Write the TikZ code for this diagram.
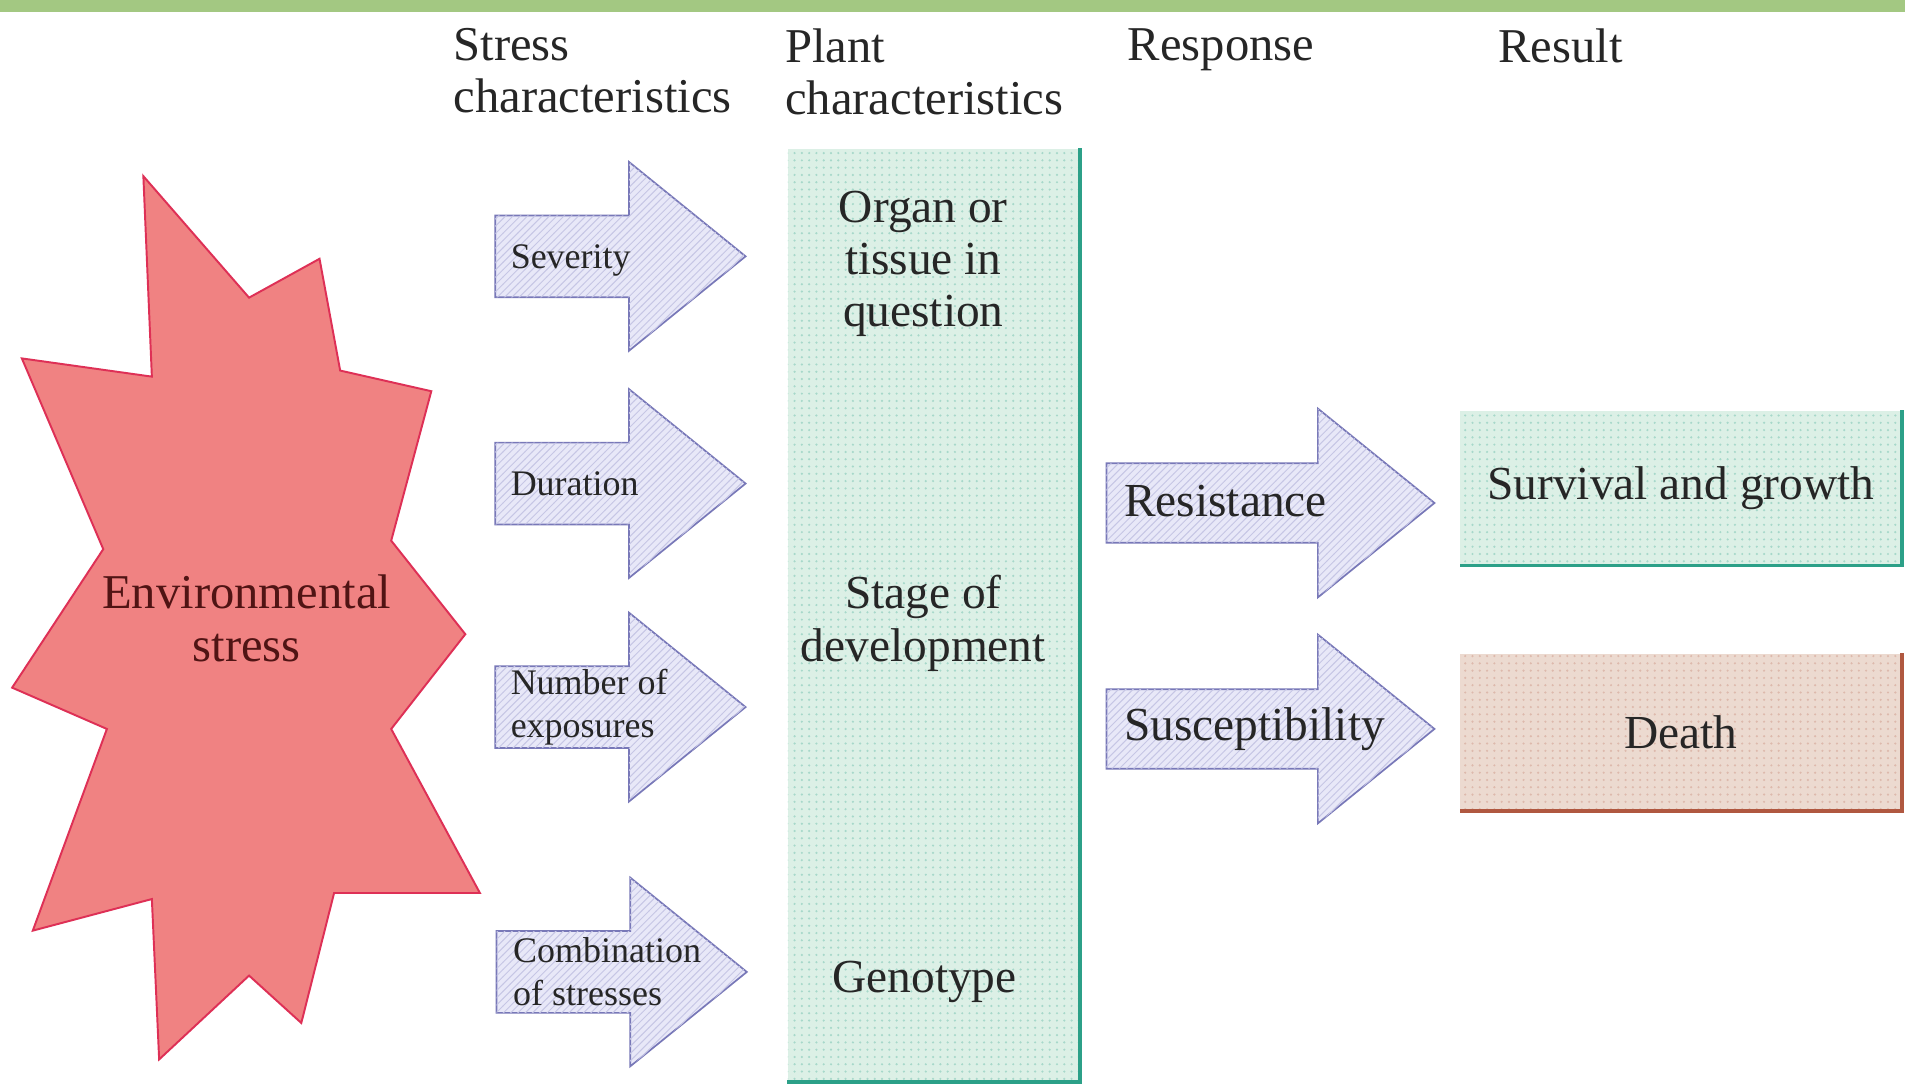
\documentclass[tikz,border=0pt]{standalone}
\usepackage{fontspec}
\setmainfont{Liberation Serif}
\definecolor{bargreen}{RGB}{163,200,130}
\definecolor{starfill}{RGB}{240,130,130}
\definecolor{starline}{RGB}{222,48,86}
\definecolor{startext}{RGB}{80,20,20}
\definecolor{arrowfill}{RGB}{232,232,248}
\definecolor{arrowline}{RGB}{120,120,184}
\definecolor{mintfill}{RGB}{220,240,230}
\definecolor{mintline}{RGB}{44,160,136}
\definecolor{deathfill}{RGB}{236,218,208}
\definecolor{deathline}{RGB}{176,88,64}
\usetikzlibrary{positioning,shapes.arrows,patterns}

\begin{document}
\begin{tikzpicture}[x=0.5pt,y=-0.5pt,
    every node/.style={inner sep=0pt},
    headtext/.style={font=\fontsize{20}{21.5}\selectfont,text=black!85,align=left,anchor=north west},
    bigtext/.style={font=\fontsize{19.5}{21.5}\selectfont,text=black!85,align=center},
    smalltext/.style={font=\fontsize{14.8}{17.5}\selectfont,text=black!85,align=left},
    charrow/.style={single arrow,draw=arrowline,fill=arrowfill,line width=0.7pt,
        single arrow tip angle=78,single arrow head extend=22pt,inner ysep=16.5pt,
        inner xsep=0pt,anchor=tail,minimum height=103pt,
        postaction={pattern=north east lines,pattern color=arrowline!30!arrowfill}},
    resparrow/.style={charrow,single arrow head extend=22.5pt,inner ysep=16pt,minimum height=135pt},
    plantbox/.style={fill=mintfill,postaction={pattern=dots,pattern color=mintline!30!mintfill}},
    survbox/.style={plantbox,minimum width=181.5pt,minimum height=63.5pt},
    deathbox/.style={fill=deathfill,minimum width=181.5pt,minimum height=64.5pt,
        postaction={pattern=dots,pattern color=deathline!25!deathfill}},
    mintedge/.style={draw=mintline,line width=1.5pt},
    deathedge/.style={draw=deathline,line width=1.5pt}
    ]

    \fill[white] (0,0) rectangle (1568,894);
    \useasboundingbox (0,0) rectangle (1568,894);
    \fill[bargreen] (0,0) rectangle (1568,10);

    % column headings
    \node (hstress) [headtext] at (373,23) {Stress\\characteristics};
    \node (hplant) [headtext] at (646,23) {Plant\\characteristics};
    \node (hresp) [headtext] at (928,23) {Response};
    \node (hres) [headtext] at (1233,23) {Result};

    % the stress
    \filldraw[fill=starfill,draw=starline,line width=0.8pt]
        (118,145) -- (205,245) -- (263,213) -- (280,305) -- (355,322) -- (322,445)
        -- (383,522) -- (322,600) -- (395,735) -- (275,735) -- (248,842) -- (205,803)
        -- (131,872) -- (125,740) -- (27,766) -- (88,600) -- (10,566) -- (85,452)
        -- (18,295) -- (125,310) -- cycle;
    \node (env) [bigtext,text=startext,font=\fontsize{20}{21.5}\selectfont] at (203,509) {Environmental\\stress};

    % stress characteristics
    \node (sev) [charrow] at (407,211) {};
    \node (dur) [charrow] at (407,398) {};
    \node (num) [charrow] at (407,582) {};
    \node (comb) [charrow] at (408,800) {};
    \node (sevt) [smalltext,right=6.5pt of sev.tail,yshift=-1.5pt] {Severity};
    \node (durt) [smalltext,right=6.5pt of dur.tail] {Duration};
    \node (numt) [smalltext,right=6.5pt of num.tail] {Number of\\exposures};
    \node (combt) [smalltext,right=7pt of comb.tail] {Combination\\of stresses};

    % plant characteristics
    \node (plant) [plantbox,minimum width=120pt,minimum height=384pt,anchor=north west] at (648,122) {};
    \draw[mintedge] (plant.north east) -- (plant.south east) -- (plant.south west);
    \node (organ) [bigtext] at (760,217) {Organ or\\tissue in\\question};
    \node (stage) [bigtext] at (760,513) {Stage of\\development};
    \node (geno) [bigtext] at (761,808) {Genotype};

    % response
    \node (resist) [resparrow] at (910,414) {};
    \node (suscep) [resparrow] at (910,600) {};
    \node (resistt) [bigtext,right=7.5pt of resist.tail,yshift=1pt] {Resistance};
    \node (susceptt) [bigtext,right=7.5pt of suscep.tail] {Susceptibility};

    % result
    \node (surv) [survbox] at (1383.5,401.5) {};
    \draw[mintedge] (surv.north east) -- (surv.south east) -- (surv.south west);
    \node (survt) [bigtext] at (surv.center) {Survival and growth};
    \node (death) [deathbox] at (1383.5,602.5) {};
    \draw[deathedge] (death.north east) -- (death.south east) -- (death.south west);
    \node (deatht) [bigtext] at (death.center) {Death};
\end{tikzpicture}
\end{document}
